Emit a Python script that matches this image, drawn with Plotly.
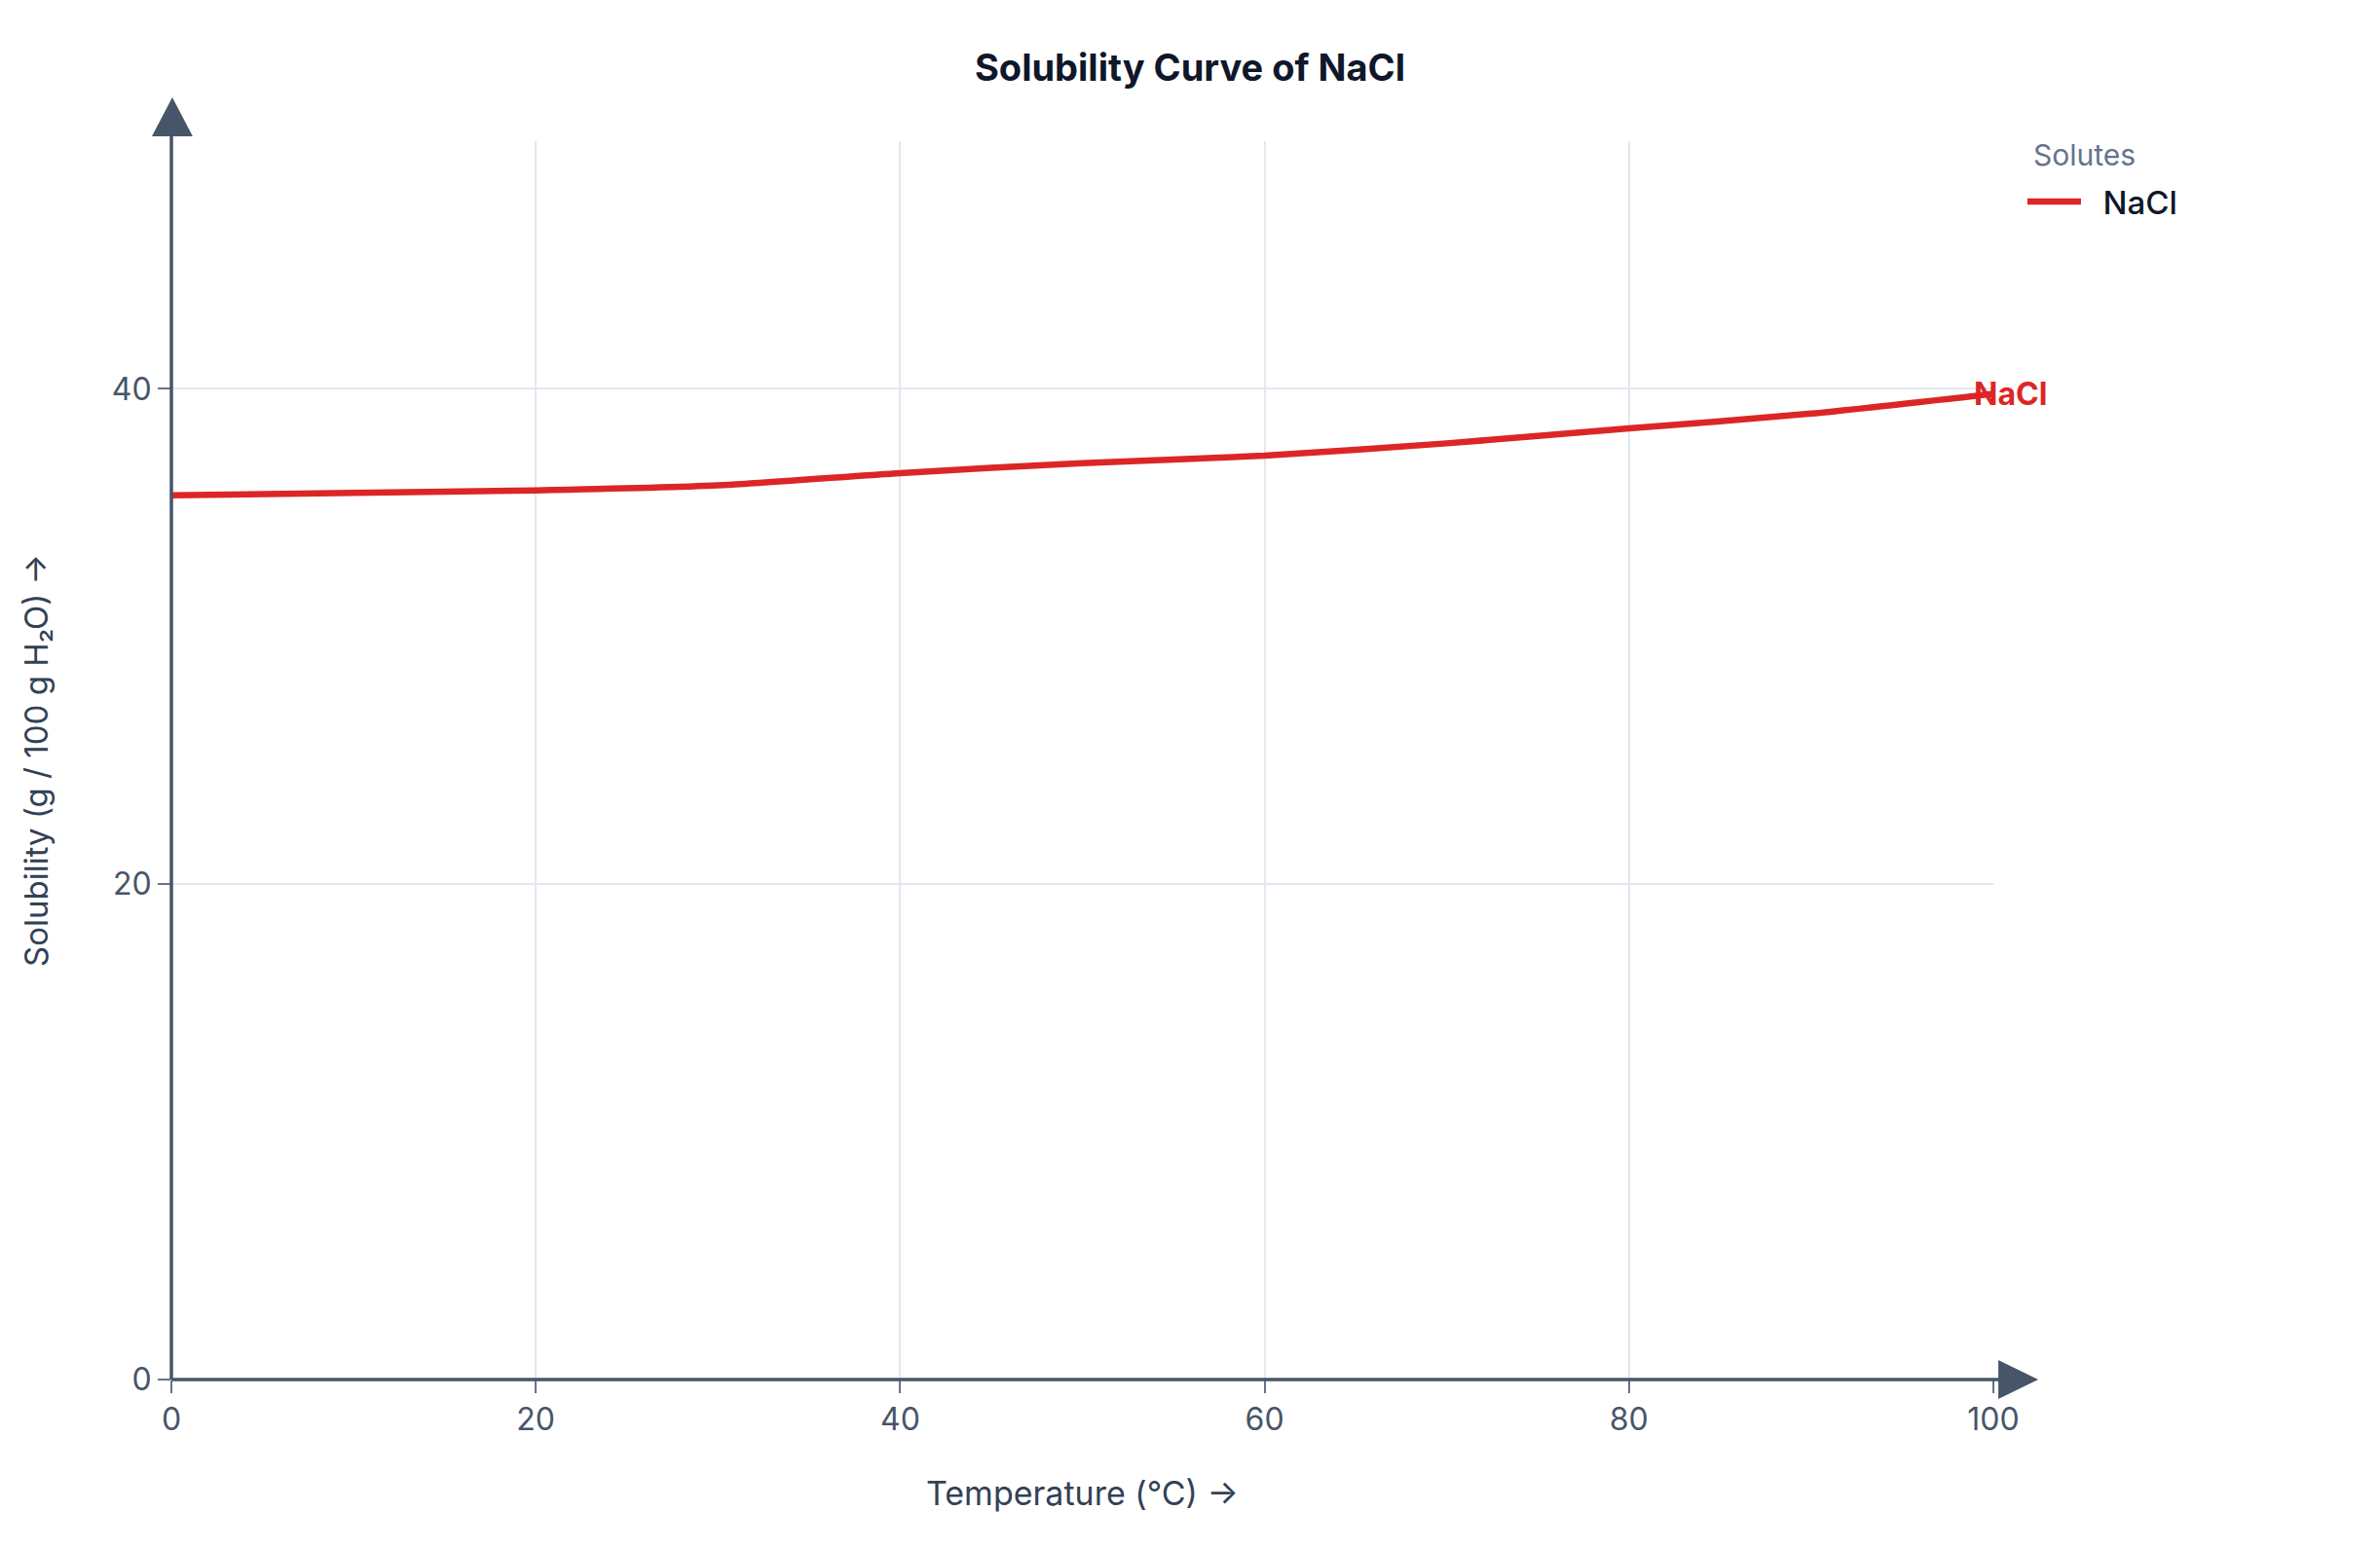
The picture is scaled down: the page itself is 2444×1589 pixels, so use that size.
import plotly.graph_objects as go

temps = [0, 10, 20, 30, 40, 50, 60, 70, 80, 90, 100]
nacl_sol = [35.7, 35.8, 35.9, 36.1, 36.6, 37.0, 37.3, 37.8, 38.4, 39.0, 39.8]
x_ticks = [0, 20, 40, 60, 80, 100]
y_ticks = [0, 20, 40]

RED = "#dc2626"
AXIS = "#475569"
FONT = "Inter"

fig = go.Figure()
fig.add_trace(go.Scatter(
    x=temps, y=nacl_sol, mode="lines", name="\u00a0\u00a0NaCl",
    line=dict(color=RED, width=6.5, shape="spline", smoothing=0.6),
))

fig.add_annotation(
    x=temps[-1], y=nacl_sol[-1], text="<b>NaCl</b>", showarrow=False,
    xanchor="left", yanchor="middle", xshift=-22,
    font=dict(family=FONT, size=32, color=RED),
)
fig.add_annotation(
    xref="paper", yref="paper", x=1.0208, y=0.989, text="Solutes", showarrow=False,
    xanchor="left", yanchor="middle",
    font=dict(family=FONT, size=30, color="#64748b"),
)

shapes = [
    dict(type="line", xref="paper", yref="paper", x0=0, x1=1.005, y0=0, y1=0,
         line=dict(color=AXIS, width=3.5), layer="above"),
    dict(type="path", xref="paper", yref="paper",
         path="M 1.0027 0.0157 L 1.0246 0 L 1.0027 -0.0157 Z",
         fillcolor=AXIS, line=dict(color=AXIS, width=0), layer="above"),
    dict(type="line", xref="paper", yref="paper", x0=0, x1=0, y0=0, y1=1.005,
         line=dict(color=AXIS, width=3.5), layer="above"),
    dict(type="path", xref="paper", yref="paper",
         path="M -0.0107 1.0039 L 0.0005 1.0354 L 0.0117 1.0039 Z",
         fillcolor=AXIS, line=dict(color=AXIS, width=0), layer="above"),
]

fig.update_layout(
    width=2444, height=1589, autosize=False,
    margin=dict(l=176, r=397, t=145, b=172),
    paper_bgcolor="white", plot_bgcolor="white",
    font=dict(family=FONT, color=AXIS),
    title=dict(text="<b>Solubility Curve of NaCl</b>", x=0.5, xref="container",
               xanchor="center", y=1 - 70 / 1589, yref="container", yanchor="middle",
               font=dict(family=FONT, size=38, color="#0f172a")),
    showlegend=True,
    legend=dict(
        font=dict(family=FONT, size=33, color="#0f172a", weight=500),
        x=1.016, y=0.9513, xanchor="left", yanchor="middle",
        bgcolor="rgba(0,0,0,0)", itemwidth=55,
    ),
    shapes=shapes,
)

fig.update_xaxes(
    range=[0, 100], tickvals=x_ticks, ticktext=[str(v) for v in x_ticks],
    showgrid=True, gridcolor="#e2e8f0", gridwidth=2,
    zeroline=False, showline=False,
    ticks="outside", ticklen=13, tickwidth=2, tickcolor="#64748b",
    tickfont=dict(family=FONT, size=32, color=AXIS),
    title=dict(text="Temperature (°C) →", font=dict(family=FONT, size=34, color="#334155"), standoff=45),
)
fig.update_yaxes(
    range=[0, 50], tickvals=y_ticks, ticktext=[str(v) for v in y_ticks],
    showgrid=True, gridcolor="#e2e8f0", gridwidth=2,
    zeroline=False, showline=False,
    ticks="outside", ticklen=13, tickwidth=2, tickcolor="#64748b",
    tickfont=dict(family=FONT, size=32, color=AXIS),
    title=dict(text="Solubility (g / 100 g H₂O) →", font=dict(family=FONT, size=33, color="#334155"), standoff=55),
)

fig.write_html("out.html")
